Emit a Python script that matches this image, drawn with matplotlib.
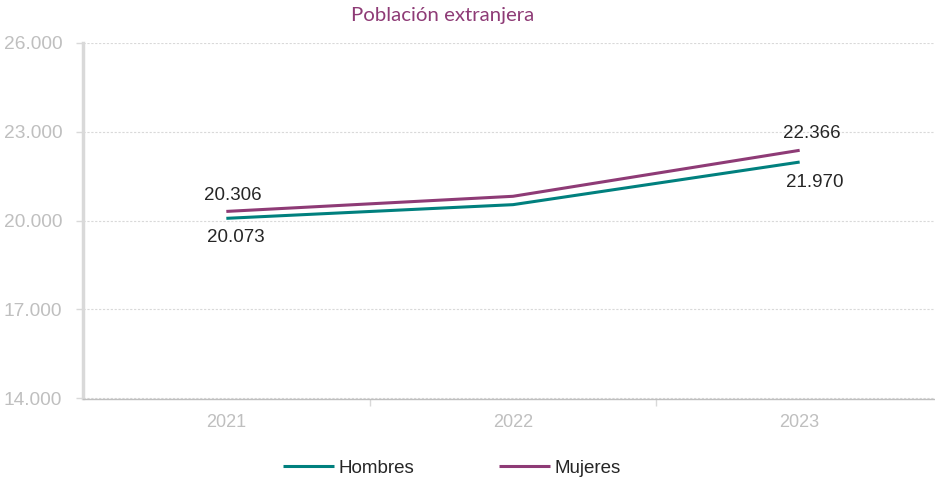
import matplotlib.pyplot as plt
import matplotlib.ticker as mticker
import numpy as np

years = ['2021', '2022', '2023']
hombres = [20073, 20534, 21970]
mujeres = [20306, 20816, 22366]

teal = '#00807E'
purple = '#8E3B76'
grey_txt = '#BFBFBF'

plt.rcParams['font.family'] = ['Liberation Sans', 'DejaVu Sans']

f = plt.figure(figsize=(9.35, 4.82), dpi=100)
ax = f.add_axes([83/935, 1-398.5/482, 860/935, (398.5-42.5)/482])

x = np.arange(len(years))
ax.plot(x, hombres, color=teal, lw=2.2, label='Hombres', solid_capstyle='butt')
ax.plot(x, mujeres, color=purple, lw=2.2, label='Mujeres', solid_capstyle='butt')

# data labels only on first and last year (offsets in points)
off_m = {0: (4.5, 11.5), 2: (9, 12)}
off_h = {0: (7, -14), 2: (11, -15)}
for i in [0, 2]:
    ax.annotate(f'{mujeres[i]:,}'.replace(',', '.'), (x[i], mujeres[i]),
                xytext=off_m[i], textcoords='offset points', ha='center', va='center',
                fontsize=13.5, color='#262626')
    ax.annotate(f'{hombres[i]:,}'.replace(',', '.'), (x[i], hombres[i]),
                xytext=off_h[i], textcoords='offset points', ha='center', va='center',
                fontsize=13.5, color='#262626')

ax.set_xlim(-0.5, 2.5)
ax.set_ylim(14000, 26000)
ax.set_yticks([14000, 17000, 20000, 23000, 26000])
ax.yaxis.set_major_formatter(mticker.FuncFormatter(lambda v, p: f'{int(v):,}'.replace(',', '.')))
ax.set_xticks(x)
ax.set_xticklabels(years)
ax.set_xticks([0.5, 1.5], minor=True)

ax.grid(axis='y', color='#D9D9D9', linestyle=(0, (2, 1.5)), lw=0.8)
ax.set_axisbelow(True)

for s in ['top', 'right']:
    ax.spines[s].set_visible(False)
ax.spines['left'].set_color('#D9D9D9')
ax.spines['left'].set_linewidth(2.5)
ax.spines['bottom'].set_color('#BFBFBF')
ax.spines['bottom'].set_linewidth(1)

ax.tick_params(axis='y', colors='#D9D9D9', labelcolor=grey_txt, labelsize=13.8,
               length=5, width=1, pad=10)
ax.tick_params(axis='x', which='major', length=0, labelcolor=grey_txt, labelsize=13, pad=11)
ax.tick_params(axis='x', which='minor', length=5, color='#D9D9D9', width=1)

f.text(443/935, 1-16/482, 'Población extranjera', ha='center', va='center',
       fontsize=14.7, color=purple, family=['Lato', 'DejaVu Sans'])

f.legend(loc='center', bbox_to_anchor=(452/935, 1-468/482), ncol=2, frameon=False,
         fontsize=13.5, handlelength=2.7, columnspacing=4.5, handletextpad=0.27,
         labelcolor='#262626')

plt.savefig('out.png', dpi=100)
